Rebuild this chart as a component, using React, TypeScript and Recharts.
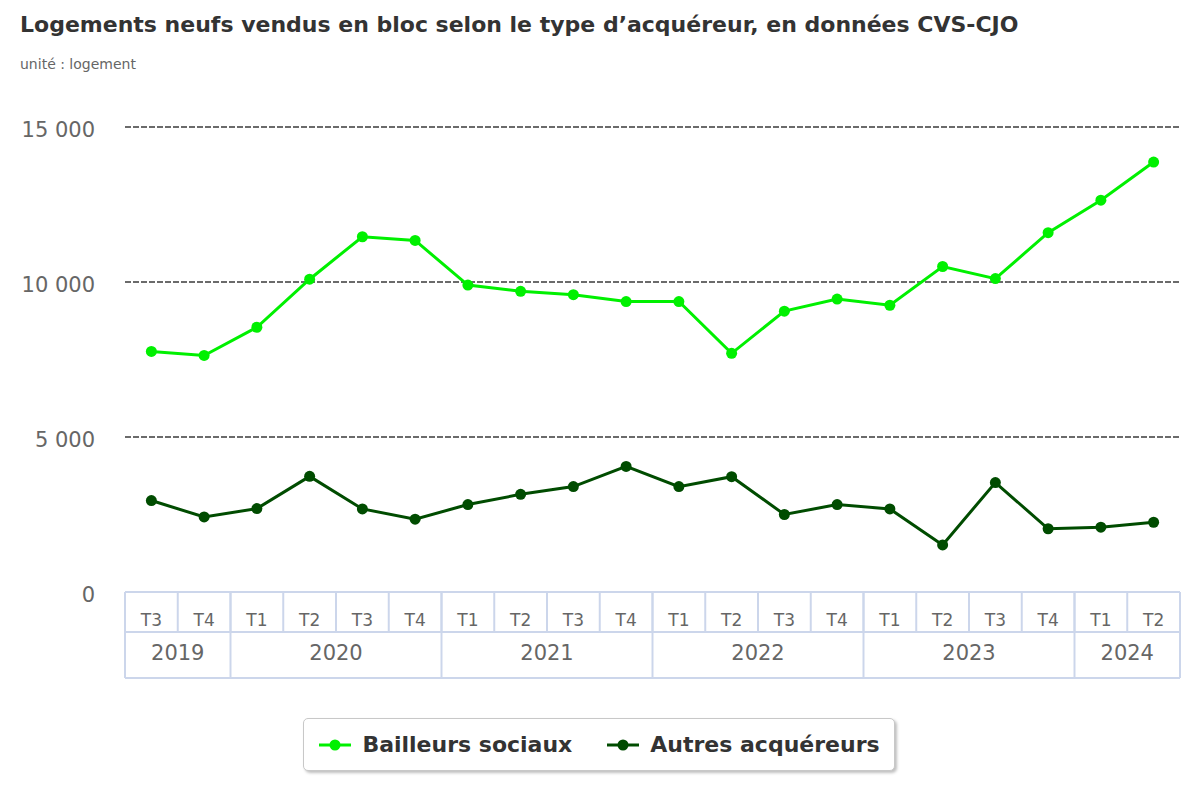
import * as React from 'react';
import { LineChart, Line, XAxis, YAxis, CartesianGrid } from 'recharts';

const quarters = ['T3', 'T4', 'T1', 'T2', 'T3', 'T4', 'T1', 'T2', 'T3', 'T4', 'T1', 'T2', 'T3', 'T4', 'T1', 'T2', 'T3', 'T4', 'T1', 'T2'];
const years = ['2019', '2019', '2020', '2020', '2020', '2020', '2021', '2021', '2021', '2021', '2022', '2022', '2022', '2022', '2023', '2023', '2023', '2023', '2024', '2024'];
const bailleurs = [7760, 7630, 8540, 10090, 11460, 11340, 9900, 9700, 9590, 9370, 9370, 7700, 9060, 9450, 9250, 10500, 10110, 11590, 12640, 13870];
const autres = [2950, 2420, 2690, 3730, 2680, 2350, 2820, 3150, 3400, 4050, 3400, 3720, 2500, 2820, 2680, 1520, 3530, 2040, 2090, 2250];
const yTicks = [0, 5000, 10000, 15000];

const seriesNames = { bailleurs: 'Bailleurs sociaux', autres: 'Autres acquéreurs' };
const GREEN = '#00f000';
const DARK = '#004c00';
const BOX = '#ccd6eb';

// layout constants (px)
const PLOT_LEFT = 125;
const PLOT_RIGHT = 1180;
const PLOT_BOTTOM = 592;
const ROW_MID = 632;
const AXIS_BOTTOM = 678;
const BW = (PLOT_RIGHT - PLOT_LEFT) / quarters.length;

const data = quarters.map((q, i) => ({
    key: years[i] + '-' + q,
    quarter: q,
    year: years[i],
    bailleurs: bailleurs[i],
    autres: autres[i],
}));

const fmt = (v: number) => String(v).replace(/\B(?=(\d{3})+(?!\d))/g, ' ');

const YTick = (props: any) => {
    const { y, payload } = props;
    return (
        <text x={95} y={y + 10} textAnchor='end' fill='#666' fontSize={21}>
            {fmt(payload.value)}
        </text>
    );
};

const QuarterTick = (props: any) => {
    const { x, payload } = props;
    const i = props.index ?? payload.index;
    const left = x - BW / 2;
    return (
        <g>
            <line x1={left} x2={left} y1={PLOT_BOTTOM} y2={ROW_MID} stroke={BOX} strokeWidth={2} />
            <text x={x} y={626} textAnchor='middle' fill='#666' fontSize={17}>
                {data[i].quarter}
            </text>
        </g>
    );
};

const YearTick = (props: any) => {
    const { x, payload } = props;
    const i = props.index ?? payload.index;
    const left = x - BW / 2;
    const last = i === data.length - 1;
    const first = i === 0 || data[i - 1].year !== data[i].year;
    const span = data.filter((d) => d.year === data[i].year).length;
    return (
        <g>
            {first && <line x1={left} x2={left} y1={PLOT_BOTTOM} y2={AXIS_BOTTOM} stroke={BOX} strokeWidth={2} />}
            {last && <line x1={left + BW} x2={left + BW} y1={PLOT_BOTTOM} y2={AXIS_BOTTOM} stroke={BOX} strokeWidth={2} />}
            {i === 0 && <line x1={PLOT_LEFT} x2={PLOT_RIGHT} y1={AXIS_BOTTOM} y2={AXIS_BOTTOM} stroke={BOX} strokeWidth={2} />}
            {first && (
                <text x={left + (span * BW) / 2} y={660} textAnchor='middle' fill='#666' fontSize={21}>
                    {data[i].year}
                </text>
            )}
        </g>
    );
};

const LegendItem = ({ color, label, gap }: { color: string; label: string; gap: number }) => (
    <div style={{ display: 'flex', alignItems: 'center', marginRight: gap, flexShrink: 0, whiteSpace: 'nowrap' }}>
        <svg width={34} height={14} style={{ marginRight: 10 }}>
            <line x1={1} x2={33} y1={7} y2={7} stroke={color} strokeWidth={3} />
            <circle cx={17} cy={7} r={5.5} fill={color} />
        </svg>
        <span style={{ fontWeight: 'bold', fontSize: 22, color: '#333' }}>{label}</span>
    </div>
);

export default function App() {
    return (
        <div style={{ position: 'absolute', left: 0, top: 0, width: 1200, height: 800, background: '#fff', fontFamily: '"DejaVu Sans", sans-serif' }}>
            <div style={{ position: 'absolute', left: 20, top: 12, fontSize: 22, fontWeight: 'bold', color: '#333', whiteSpace: 'nowrap' }}>
                Logements neufs vendus en bloc selon le type d’acquéreur, en données CVS-CJO
            </div>
            <div style={{ position: 'absolute', left: 20, top: 56, fontSize: 14, color: '#666' }}>
                unité : logement
            </div>
            <div style={{ position: 'absolute', left: 0, top: 0 }}>
                <LineChart width={1200} height={800} data={data} margin={{ top: 127, right: 20, left: 0, bottom: 122 }}>
                    <CartesianGrid vertical={false} xAxisId='q' stroke='#6b6b6b' strokeWidth={2} strokeDasharray='6 2' />
                    <XAxis
                        xAxisId='q'
                        dataKey='key'
                        height={40}
                        interval={0}
                        padding={{ left: BW / 2, right: BW / 2 }}
                        tickLine={false}
                        axisLine={{ stroke: BOX, strokeWidth: 2 }}
                        tick={<QuarterTick />}
                    />
                    <XAxis
                        xAxisId='y'
                        dataKey='key'
                        height={46}
                        interval={0}
                        padding={{ left: BW / 2, right: BW / 2 }}
                        tickLine={false}
                        axisLine={{ stroke: BOX, strokeWidth: 2 }}
                        tick={<YearTick />}
                    />
                    <YAxis width={125} domain={[0, 15000]} ticks={yTicks} axisLine={false} tickLine={false} tick={<YTick />} />
                    <Line
                        xAxisId='q'
                        dataKey='bailleurs'
                        name={seriesNames.bailleurs}
                        stroke={GREEN}
                        strokeWidth={3}
                        dot={{ r: 5.5, fill: GREEN, stroke: GREEN, strokeWidth: 0 }}
                        activeDot={false}
                        isAnimationActive={false}
                    />
                    <Line
                        xAxisId='y'
                        dataKey='autres'
                        name={seriesNames.autres}
                        stroke={DARK}
                        strokeWidth={3}
                        dot={{ r: 5.5, fill: DARK, stroke: DARK, strokeWidth: 0 }}
                        activeDot={false}
                        isAnimationActive={false}
                    />
                </LineChart>
            </div>
            <div
                style={{
                    position: 'absolute', left: 303, top: 718, width: 592, height: 53, boxSizing: 'border-box',
                    border: '1px solid #c8c8c8', borderRadius: 5, boxShadow: '2px 2px 3px rgba(0,0,0,0.25)',
                    display: 'flex', alignItems: 'center', justifyContent: 'center', background: '#fff',
                }}
            >
                <LegendItem color={GREEN} label={seriesNames.bailleurs} gap={34} />
                <LegendItem color={DARK} label={seriesNames.autres} gap={0} />
            </div>
        </div>
    );
}
